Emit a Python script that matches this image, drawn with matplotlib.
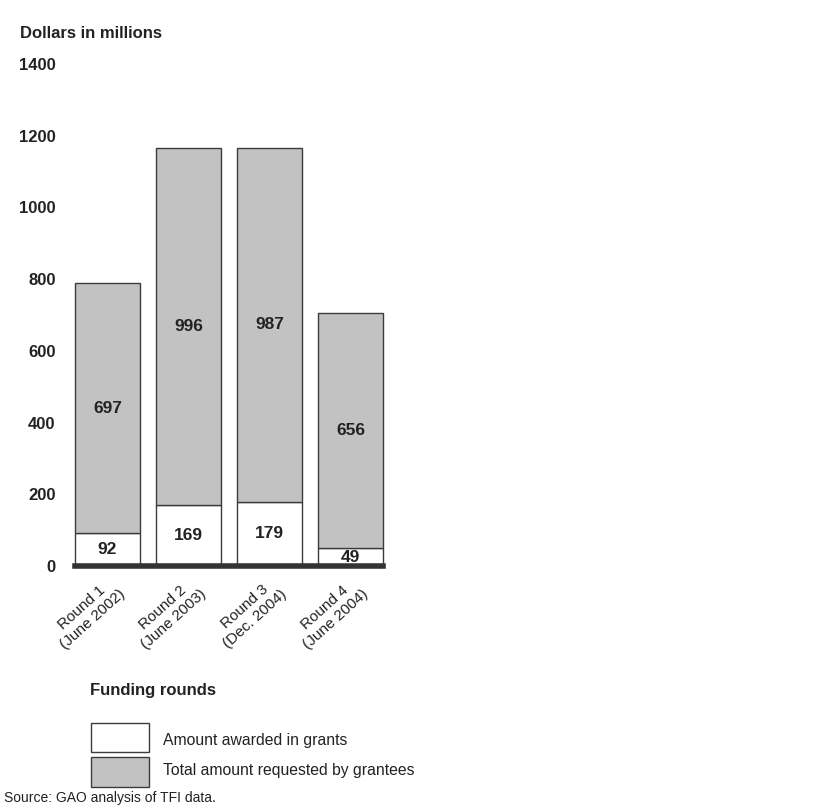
import numpy as np
import matplotlib
matplotlib.use('Agg')
import matplotlib.pyplot as plt
from matplotlib.patches import Rectangle
import matplotlib.transforms as mtransforms

plt.rcParams['font.family'] = ['Liberation Sans', 'DejaVu Sans']

# --- data ---
rounds = ['Round 1\n(June 2002)', 'Round 2\n(June 2003)',
          'Round 3\n(Dec. 2004)', 'Round 4\n(June 2004)']
awarded = [92, 169, 179, 49]
requested_rest = [697, 996, 987, 656]
yticks = [0, 200, 400, 600, 800, 1000, 1200, 1400]

grey = '#c2c2c2'
edge = '#3c3c3c'
ink = '#222222'

W, H = 837, 806
fig = plt.figure(figsize=(W / 100, H / 100), dpi=100)
# axes placed in pixel terms: x 75..383, y(0)=566, y(1400)=64
ax = fig.add_axes([75 / W, (H - 566) / H, (383 - 75) / W, (566 - 64) / H])

x = np.arange(len(rounds))
ax.bar(x, awarded, width=0.8, color='white', edgecolor=edge, linewidth=1.0,
       clip_on=False)
ax.bar(x, requested_rest, bottom=awarded, width=0.8, color=grey,
       edgecolor=edge, linewidth=1.0, clip_on=False)

for xi, a, r in zip(x, awarded, requested_rest):
    ax.text(xi, a / 2, str(a), ha='center', va='center',
            fontsize=12.5, fontweight='bold', color=ink)
    ax.text(xi, a + r / 2, str(r), ha='center', va='center',
            fontsize=12.5, fontweight='bold', color=ink)

# thick baseline
ax.axhline(0, color='#333333', linewidth=4, zorder=5, clip_on=False)

ax.set_xlim(-0.4, 3.4)
ax.set_ylim(0, 1400)
ax.set_yticks(yticks)
ax.set_yticklabels([str(v) for v in yticks], fontsize=12, fontweight='bold',
                   color=ink)
ax.tick_params(axis='y', length=0, pad=14)
ax.set_xticks(x)
ax.set_xticklabels(rounds, rotation=42, ha='right', va='center',
                   rotation_mode='anchor', multialignment='center',
                   fontsize=11, color=ink)
ax.tick_params(axis='x', length=0, pad=0)
offset = mtransforms.ScaledTranslation(10 / 100, -20 / 100, fig.dpi_scale_trans)
for lab in ax.get_xticklabels():
    lab.set_transform(lab.get_transform() + offset)

for s in ax.spines.values():
    s.set_visible(False)

fig.text(20 / W, 1 - 33 / H, 'Dollars in millions', fontsize=12,
         fontweight='bold', va='center', color=ink)

# legend block
fig.text(90 / W, 1 - 690 / H, 'Funding rounds', fontsize=12,
         fontweight='bold', va='center', color=ink)
fig.patches.append(Rectangle((91 / W, 1 - 752 / H), 58 / W, 29 / H,
                             transform=fig.transFigure, facecolor='white',
                             edgecolor=edge, linewidth=1.0))
fig.patches.append(Rectangle((91 / W, 1 - 787 / H), 58 / W, 30 / H,
                             transform=fig.transFigure, facecolor=grey,
                             edgecolor=edge, linewidth=1.0))
fig.text(163 / W, 1 - 741 / H, 'Amount awarded in grants', fontsize=11.3,
         va='center', color=ink)
fig.text(163 / W, 1 - 770 / H, 'Total amount requested by grantees',
         fontsize=11.3, va='center', color=ink)

fig.text(4 / W, 1 / H, 'Source: GAO analysis of TFI data.',
         fontsize=10, va='bottom', color=ink)

fig.savefig('out.png', dpi=100, facecolor='white')
